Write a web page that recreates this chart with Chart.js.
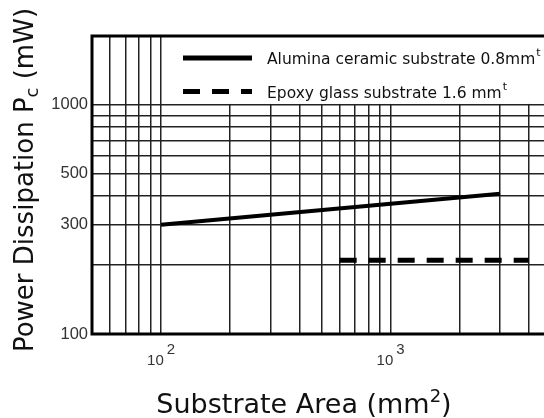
<!DOCTYPE html>
<html>
<head>
<meta charset="utf-8">
<script src="https://cdn.jsdelivr.net/npm/chart.js@4.4.1/dist/chart.umd.min.js"></script>
<style>
  html, body { margin: 0; padding: 0; background: #fff; overflow: hidden; }
  #wrap { width: 551px; height: 418px; }
</style>
</head>
<body>
<div id="wrap"><canvas id="myChart"></canvas></div>
<script>
// series (log-log axes)
const seriesLabels = ['Alumina ceramic substrate 0.8mm', 'Epoxy glass substrate 1.6 mm'];
const aluminaArea = [100, 3000];
const aluminaPower = [300, 410];
const epoxyArea = [600, 4000];
const epoxyPower = [210, 210];

// grid and tick values
const xGridValues = [50, 60, 70, 80, 90, 100, 200, 300, 400, 500, 600, 700, 800, 900, 1000, 2000, 3000, 4000, 5000];
const yGridValues = [100, 200, 300, 400, 500, 600, 700, 800, 900, 1000, 2000];
const xTickExponents = [2, 3];
const yTickLabels = [100, 300, 500, 1000];

const toPoints = (xs, ys) => xs.map((x, i) => ({ x: x, y: ys[i] }));

// draws a row of text pieces (for sub/superscripts), returns width
function drawPieces(ctx, pieces, x, y, align) {
  let total = 0;
  pieces.forEach(p => { ctx.font = p.font; p.w = ctx.measureText(p.text).width; total += p.w + (p.gap || 0); });
  let cx = align === 'center' ? x - total / 2 : x;
  ctx.textAlign = 'left';
  ctx.textBaseline = 'alphabetic';
  pieces.forEach(p => {
    cx += (p.gap || 0);
    ctx.font = p.font;
    ctx.fillText(p.text, cx, y + (p.dy || 0));
    cx += p.w;
  });
  return total;
}

const decorations = {
  id: 'decorations',
  beforeDatasetsDraw(chart) {
    // the corner holding the legend has no grid lines
    const { ctx, chartArea: a, scales: { x, y } } = chart;
    const x0 = x.getPixelForValue(100) + 1;
    const y0 = y.getPixelForValue(1000) - 1;
    ctx.save();
    ctx.fillStyle = '#fff';
    ctx.fillRect(x0, a.top, a.right - x0, y0 - a.top);
    ctx.restore();
  },
  afterDraw(chart) {
    const { ctx, chartArea: a, scales: { x } } = chart;
    ctx.save();

    // frame
    ctx.strokeStyle = '#000';
    ctx.lineWidth = 3;
    ctx.strokeRect(a.left, a.top, a.right - a.left, a.bottom - a.top);

    // legend
    chart.data.datasets.forEach((ds, i) => {
      const ly = a.top + 22 + i * 33.5;
      ctx.strokeStyle = ds.borderColor;
      ctx.lineWidth = 5;
      ctx.lineCap = 'butt';
      ctx.setLineDash(ds.borderDash || []);
      ctx.beginPath();
      ctx.moveTo(a.left + 91, ly);
      ctx.lineTo(a.left + 160, ly);
      ctx.stroke();
      ctx.setLineDash([]);
      ctx.fillStyle = '#111';
      drawPieces(ctx, [
        { text: ds.label, font: '15.5px "DejaVu Sans"' },
        { text: 't', font: '11px "DejaVu Sans"', dy: -8, gap: 1 }
      ], a.left + 175, ly + 6, 'left');
    });

    // x tick labels 10^n
    ctx.fillStyle = '#333';
    xTickExponents.forEach(e => {
      const px = x.getPixelForValue(Math.pow(10, e));
      drawPieces(ctx, [
        { text: '10', font: '15px "Liberation Sans"' },
        { text: String(e), font: '15px "Liberation Sans"', dy: -11, gap: 3 }
      ], px, 365, 'center');
    });

    // axis titles
    ctx.fillStyle = '#111';
    drawPieces(ctx, [
      { text: 'Substrate Area (mm', font: '27px "DejaVu Sans"' },
      { text: '2', font: '18px "DejaVu Sans"', dy: -11 },
      { text: ')', font: '27px "DejaVu Sans"' }
    ], 304, 413, 'center');

    ctx.translate(33, 180);
    ctx.rotate(-Math.PI / 2);
    drawPieces(ctx, [
      { text: 'Power Dissipation P', font: '26px "DejaVu Sans"' },
      { text: 'c', font: '18px "DejaVu Sans"', dy: 5 },
      { text: ' (mW)', font: '26px "DejaVu Sans"' }
    ], 0, 0, 'center');

    ctx.restore();
  }
};

const gridStyle = { color: '#222', lineWidth: 1.5, drawTicks: false };

new Chart(document.getElementById('myChart').getContext('2d'), {
  type: 'line',
  data: {
    datasets: [{
      label: seriesLabels[0],
      data: toPoints(aluminaArea, aluminaPower),
      borderColor: '#000',
      borderWidth: 4,
      borderCapStyle: 'butt',
      pointRadius: 0,
      tension: 0
    }, {
      label: seriesLabels[1],
      data: toPoints(epoxyArea, epoxyPower),
      borderColor: '#000',
      borderWidth: 5,
      borderDash: [17, 12],
      borderCapStyle: 'butt',
      pointRadius: 0,
      tension: 0
    }]
  },
  options: {
    responsive: true,
    maintainAspectRatio: false,
    animation: false,
    events: [],
    layout: { padding: { top: 36, left: 0, right: 0, bottom: 0 } },
    plugins: { legend: { display: false }, tooltip: { enabled: false } },
    scales: {
      x: {
        type: 'logarithmic',
        min: 50,
        max: 5000,
        afterBuildTicks: axis => { axis.ticks = xGridValues.map(v => ({ value: v })); },
        afterFit: axis => { axis.height = 84; },
        ticks: { display: false },
        grid: gridStyle,
        border: { display: false }
      },
      y: {
        type: 'logarithmic',
        min: 100,
        max: 2000,
        afterBuildTicks: axis => { axis.ticks = yGridValues.map(v => ({ value: v })); },
        afterFit: axis => { axis.width = 92; },
        ticks: {
          autoSkip: false,
          padding: 4,
          color: '#333',
          font: { family: 'Liberation Sans', size: 16.5 },
          callback: value => yTickLabels.includes(value) ? String(value) : ''
        },
        grid: gridStyle,
        border: { display: false }
      }
    }
  },
  plugins: [decorations]
});
</script>
</body>
</html>
